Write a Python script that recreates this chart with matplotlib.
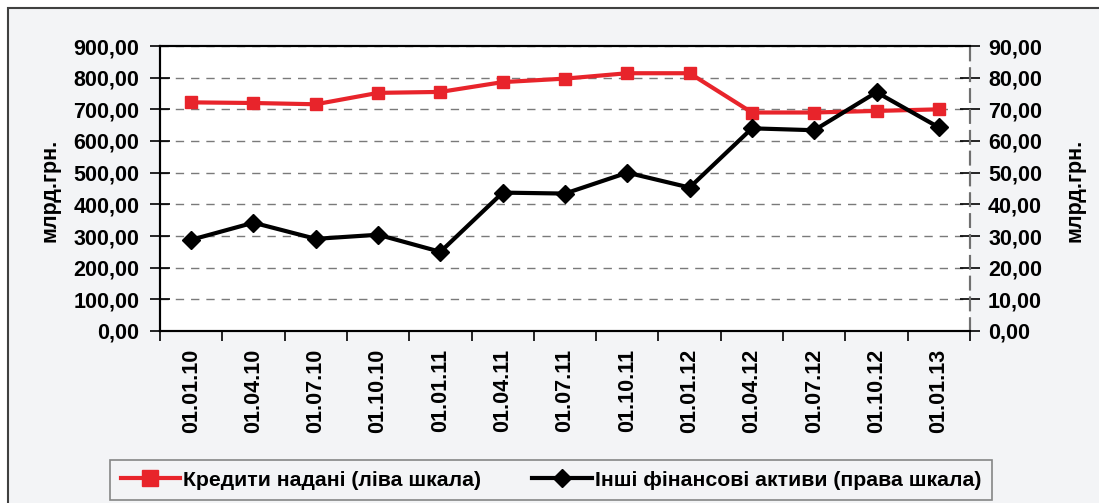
import matplotlib
matplotlib.use("Agg")
import matplotlib.pyplot as plt
from matplotlib.patches import Rectangle
from matplotlib.lines import Line2D
from matplotlib.ticker import FuncFormatter, MultipleLocator

plt.rcParams['font.family'] = ['Liberation Sans', 'DejaVu Sans']

categories = ["01.01.10", "01.04.10", "01.07.10", "01.10.10", "01.01.11", "01.04.11",
              "01.07.11", "01.10.11", "01.01.12", "01.04.12", "01.07.12", "01.10.12", "01.01.13"]
credits_left = [722, 720, 716, 752, 755, 786, 797, 814, 814, 690, 690, 695, 700]
other_assets_right = [28.8, 34.2, 29.1, 30.4, 25.0, 43.7, 43.4, 50.0, 45.3, 64.0, 63.4, 75.4, 64.3]

label_credits = "Кредити надані (ліва шкала)"
label_other = "Інші фінансові активи (права шкала)"
ylabel = "млрд.грн."

W, H = 1099, 503
fig = plt.figure(figsize=(W / 100, H / 100), dpi=100)
fig.patch.set_facecolor('white')

# outer frame (only top and left edges fall inside the picture)
frame = Rectangle((8 / W, -10 / H), (W + 20) / W, (H - 8 + 10) / H, transform=fig.transFigure,
                  facecolor='#f3f4f6', edgecolor='#404040', linewidth=1.5, zorder=-10)
fig.add_artist(frame)

ax = fig.add_axes([160 / W, 1 - 331 / H, (970 - 160) / W, (331 - 46) / H])
ax.set_facecolor('white')
ax2 = ax.twinx()

x = list(range(len(categories)))
ax.plot(x, credits_left, color='#e8242b', linewidth=3, marker='s', markersize=8.5,
        markerfacecolor='#e8242b', markeredgecolor='#e8242b', zorder=3, clip_on=False)
ax2.plot(x, other_assets_right, color='black', linewidth=3, marker='D', markersize=9,
         markerfacecolor='black', markeredgecolor='black', zorder=3, clip_on=False)

ax.set_xlim(-0.5, len(categories) - 0.5)
ax.set_ylim(0, 900)
ax2.set_ylim(0, 90)
ax.yaxis.set_major_locator(MultipleLocator(100))
ax2.yaxis.set_major_locator(MultipleLocator(10))
fmt = FuncFormatter(lambda v, p: f"{v:.2f}".replace('.', ','))
ax.yaxis.set_major_formatter(fmt)
ax2.yaxis.set_major_formatter(fmt)

ax.set_xticks(x)
ax.set_xticklabels(categories, rotation=90, fontsize=15.5, fontweight='bold')
ax.set_xticks([i - 0.5 for i in range(len(categories) + 1)], minor=True)
ax.tick_params(axis='x', which='major', length=0, pad=13)
ax.tick_params(axis='x', which='minor', length=7, width=1.2, direction='out', color='black')

ax.tick_params(axis='y', direction='inout', length=14, width=1.2, pad=8, labelsize=15.5)
ax2.tick_params(axis='y', direction='inout', length=14, width=1.2, pad=6, labelsize=15.5)
for a in (ax, ax2):
    for lab in a.get_yticklabels():
        lab.set_fontweight('bold')

ax.grid(axis='y', color='#7a7a7a', linestyle=(0, (6, 5)), linewidth=1)
ax.set_axisbelow(True)

for a in (ax, ax2):
    a.spines['top'].set_color('black')
    a.spines['top'].set_linewidth(1.5)
    a.spines['bottom'].set_color('black')
    a.spines['bottom'].set_linewidth(1.5)
    a.spines['left'].set_color('black')
    a.spines['left'].set_linewidth(1.5)
    a.spines['right'].set_color('#707070')
    a.spines['right'].set_linestyle((0, (6, 4)))
    a.spines['right'].set_linewidth(1.5)

fig.text(50 / W, 1 - 190 / H, ylabel, rotation=90, ha='center', va='center',
         fontsize=15.5, fontweight='bold')
fig.text(1075 / W, 1 - 190 / H, ylabel, rotation=90, ha='center', va='center',
         fontsize=15.5, fontweight='bold')

# legend
h1 = Line2D([], [], color='#e8242b', linewidth=3, marker='s', markersize=11)
h2 = Line2D([], [], color='black', linewidth=3, marker='D', markersize=9)
leg = fig.legend([h1, h2], [label_credits, label_other], ncol=2,
                 loc='center', bbox_to_anchor=(551 / W, 1 - 480 / H),
                 frameon=True, fancybox=False, edgecolor='#6a6a6a', facecolor='#f3f4f6',
                 prop={'size': 15.3, 'weight': 'bold'}, handlelength=2.8,
                 handletextpad=0.15, columnspacing=2.4, borderpad=0.5, borderaxespad=0)
leg.get_frame().set_linewidth(1.2)

fig.savefig('out.png', dpi=100)
